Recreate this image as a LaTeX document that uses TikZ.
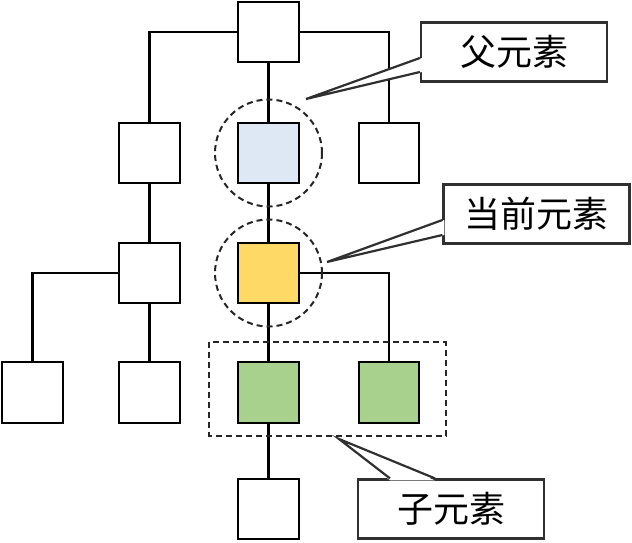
\documentclass[tikz,border=0pt]{standalone}
\usepackage{fontspec}
\newfontfamily\cjk{Noto Sans CJK SC}
\usetikzlibrary{calc}

\definecolor{parfill}{HTML}{DEE8F4}
\definecolor{curfill}{HTML}{FFD966}
\definecolor{kidfill}{HTML}{A9D18E}
\definecolor{tagline}{HTML}{303030}

\tikzset{
	elem/.style = {draw, line width = 2.4pt, minimum size = 60.5pt, inner sep = 0pt, fill = white},
	link/.style = {line width = 2.4pt},
	ring/.style = {draw = black!85, line width = 2pt, dash pattern = on 6pt off 4pt},
	tag/.style = {draw = tagline, line width = 2.2pt, fill = white, minimum width = 186pt, minimum height = 59pt, inner sep = 0pt, font = \cjk\fontsize{36}{40}\selectfont}
}

\begin{document}
\begin{tikzpicture}[x = 1pt, y = -1pt]

	\useasboundingbox (0, 0) rectangle (632, 543);

	% tree
	\node [elem] (root) at (268.5, 32) {};
	\node [elem] (p1) at (149.5, 153) {};
	\node [elem, fill = parfill] (par) at (268.5, 153) {};
	\node [elem] (p3) at (389, 153) {};
	\node [elem] (c1) at (149.5, 273) {};
	\node [elem, fill = curfill] (cur) at (268.5, 273) {};
	\node [elem] (d1) at (32.5, 392.5) {};
	\node [elem] (d2) at (149.5, 392.5) {};
	\node [elem, fill = kidfill] (kid1) at (268.5, 392.5) {};
	\node [elem, fill = kidfill] (kid2) at (389, 392.5) {};
	\node [elem] (leaf) at (268.5, 509) {};

	\begin{scope}[link]
		\draw (root.west) -| (p1.north);
		\draw (root.east) -| (p3.north);
		\draw (root) -- (par);
		\draw (par) -- (cur);
		\draw (p1) -- (c1);
		\draw (c1.west) -| (d1.north);
		\draw (c1) -- (d2);
		\draw (cur) -- (kid1);
		\draw (cur.east) -| (kid2.north);
		\draw (kid1) -- (leaf);
	\end{scope}

	% marks
	\draw [ring] (par) circle (53.5);
	\draw [ring] (cur) circle (53.5);
	\draw [ring] (209, 342) rectangle (445.5, 435.5);

	% labels
	\node [tag] (fa) at (514, 52) {父元素};
	\node [tag] (now) at (536.5, 214) {当前元素};
	\node [tag] (zi) at (451, 509) {子元素};

	\coordinate (fa tip) at (306, 99);
	\coordinate (now tip) at (327, 262);
	\coordinate (zi tip) at (339, 439);

	\fill [white] ([xshift = 2pt, yshift = -6pt] fa.west) -- (fa tip) -- ([xshift = 2pt, yshift = -20pt] fa.west) -- cycle;
	\draw [tagline, line width = 2.2pt] ([yshift = -6pt] fa.west) -- (fa tip) -- ([yshift = -20pt] fa.west);

	\fill [white] ([xshift = 2pt, yshift = -6pt] now.west) -- (now tip) -- ([xshift = 2pt, yshift = -21pt] now.west) -- cycle;
	\draw [tagline, line width = 2.2pt] ([yshift = -6pt] now.west) -- (now tip) -- ([yshift = -21pt] now.west);

	\fill [white] ([xshift = -61pt, yshift = -2pt] zi.north) -- (zi tip) -- ([xshift = -16pt, yshift = -2pt] zi.north) -- cycle;
	\draw [tagline, line width = 2.2pt] ([xshift = -61pt] zi.north) -- (zi tip) -- ([xshift = -16pt] zi.north);

\end{tikzpicture}
\end{document}
